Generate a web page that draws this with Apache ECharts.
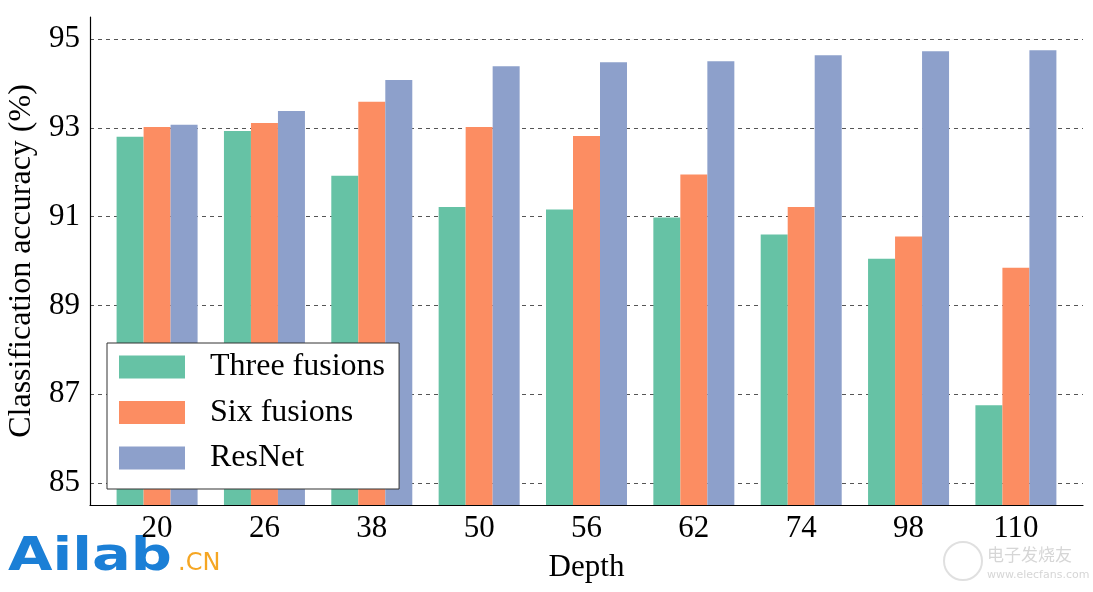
<!DOCTYPE html>
<html>
<head>
<meta charset="utf-8">
<script src="https://cdn.jsdelivr.net/npm/echarts@6/dist/echarts.min.js"></script>
<style>
html,body{margin:0;padding:0;background:#fff;}
#chart{width:1093px;height:592px;}
</style>
</head>
<body>
<div id="chart"></div>
<script>
var categories = ['20', '26', '38', '50', '56', '62', '74', '98', '110'];
var threeFusions = [92.8, 92.93, 91.92, 91.22, 91.16, 90.98, 90.6, 90.05, 86.75];
var sixFusions = [93.02, 93.11, 93.59, 93.02, 92.82, 91.95, 91.22, 90.55, 89.85];
var resNet = [93.07, 93.38, 94.08, 94.39, 94.48, 94.5, 94.64, 94.73, 94.75];
var yTicks = [85, 87, 89, 91, 93, 95];
var seriesNames = ['Three fusions', 'Six fusions', 'ResNet'];
var colors = ['#66c2a5', '#fc8d62', '#8da0cb'];

var serif = '"Liberation Serif", "DejaVu Serif", serif';
function pairs(arr) { return arr.map(function (v, i) { return [i, v]; }); }
var catIdx = categories.map(function (c, i) { return i; });

var chart = echarts.init(document.getElementById('chart'));
chart.setOption({
  animation: false,
  backgroundColor: '#fff',
  grid: { left: 90, right: 10, top: 17, bottom: 87, containLabel: false, outerBoundsMode: 'none' },
  xAxis: {
    type: 'value',
    min: -0.625,
    max: 8.625,
    name: 'Depth',
    nameLocation: 'middle',
    nameGap: 47,
    nameTextStyle: { fontFamily: serif, fontSize: 31, color: '#000' },
    axisLine: { show: true, onZero: false, lineStyle: { color: '#000', width: 1.2 } },
    axisTick: { show: false, customValues: catIdx },
    splitLine: { show: false },
    axisLabel: {
      customValues: catIdx,
      margin: 8,
      fontFamily: serif, fontSize: 31, color: '#000',
      formatter: function (v) { return categories[Math.round(v)]; }
    }
  },
  yAxis: {
    type: 'value',
    min: 84.5,
    max: 95.5,
    name: 'Classification accuracy (%)',
    nameLocation: 'middle',
    nameGap: 52,
    nameTextStyle: { fontFamily: serif, fontSize: 32, color: '#000' },
    axisLine: { show: true, onZero: false, lineStyle: { color: '#000', width: 1.2 } },
    axisTick: { show: false, customValues: yTicks },
    axisLabel: {
      customValues: yTicks,
      margin: 10,
      fontFamily: serif, fontSize: 31, color: '#000'
    },
    splitLine: { show: true, lineStyle: { color: '#555', type: [4, 4], width: 1 } }
  },
  legend: {
    orient: 'vertical',
    left: 107,
    top: 343,
    padding: [8, 14, 15, 12],
    backgroundColor: '#fff',
    borderColor: '#333',
    borderWidth: 1,
    borderRadius: 0,
    itemWidth: 66,
    itemHeight: 23,
    itemGap: 13.5,
    icon: 'rect',
    textStyle: { fontFamily: serif, fontSize: 32, color: '#000', padding: [0, 0, 0, 20] },
    data: seriesNames
  },
  series: [
    { name: seriesNames[0], type: 'bar', data: pairs(threeFusions), barWidth: 27, barGap: '0%', itemStyle: { color: colors[0] }, z: 3 },
    { name: seriesNames[1], type: 'bar', data: pairs(sixFusions), barWidth: 27, barGap: '0%', itemStyle: { color: colors[1] }, z: 3 },
    { name: seriesNames[2], type: 'bar', data: pairs(resNet), barWidth: 27, barGap: '0%', itemStyle: { color: colors[2] }, z: 3 }
  ],
  graphic: [
    { type: 'text', x: 8, y: 535, scaleX: 1.25, style: { text: 'Ailab', font: 'bold 46px "DejaVu Sans", sans-serif', fill: '#1b7fd6' } },
    { type: 'text', x: 178, y: 552, style: { text: '.CN', font: '24px "DejaVu Sans", sans-serif', fill: '#f5a623' } },
    { type: 'circle', shape: { cx: 963, cy: 561, r: 19 }, style: { fill: 'none', stroke: '#e0e0e0', lineWidth: 2 } },
    { type: 'text', x: 987, y: 546, style: { text: '电子发烧友', font: '17px "Noto Sans CJK SC", sans-serif', fill: '#d6d6d6' } },
    { type: 'text', x: 987, y: 570, style: { text: 'www.elecfans.com', font: '11px "DejaVu Sans", sans-serif', fill: '#d6d6d6' } }
  ]
});
</script>
</body>
</html>
